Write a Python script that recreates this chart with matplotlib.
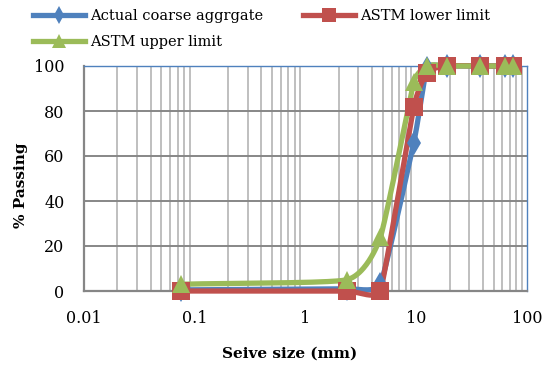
import numpy as np
import matplotlib
matplotlib.use("Agg")
import matplotlib.pyplot as plt
from matplotlib.ticker import LogLocator, NullFormatter, FixedLocator

sieve_mm = [0.075, 2.36, 4.75, 9.5, 12.5, 19, 37.5, 63, 75]
actual = [0.5, 1, 3, 66, 99, 100, 100, 100, 100]
lower = [0, 0, 0, 82, 97, 100, 100, 100, 100]
upper = [3, 5, 24, 93, 100, 100, 100, 100, 100]

x_ticks = [0.01, 0.1, 1, 10, 100]
x_ticklabels = ["0.01", "0.1", "1", "10", "100"]
y_ticks = [0, 20, 40, 60, 80, 100]

plt.rcParams['font.family'] = ['DejaVu Serif']

# rough pixel scale of the plot box, used so smoothing looks like excel's
SX, SY = 110.75, 2.25


def smooth(xs, ys, n=40, k=0.3):
    # bezier through the points, tangents from neighbours; handle length
    # limited by the shorter neighbouring chord so long flat runs stay flat
    P = np.column_stack([np.log10(xs) * SX, np.asarray(ys, float) * SY])
    m = len(P)
    chord = [np.hypot(*(P[i + 1] - P[i])) for i in range(m - 1)]
    tang = []
    for i in range(m):
        d = P[min(i + 1, m - 1)] - P[max(i - 1, 0)]
        tang.append(d / (np.hypot(*d) or 1))
    out = []
    t = np.linspace(0, 1, n)[:, None]
    for i in range(m - 1):
        p1, p2 = P[i], P[i + 1]
        L = chord[i]
        h1 = min(L, chord[i - 1]) if i > 0 else L
        h2 = min(L, chord[i + 1]) if i + 1 < m - 1 else L
        c1 = p1 + tang[i] * h1 * k
        c2 = p2 - tang[i + 1] * h2 * k
        seg = ((1 - t) ** 3 * p1 + 3 * (1 - t) ** 2 * t * c1
               + 3 * (1 - t) * t ** 2 * c2 + t ** 3 * p2)
        out.append(seg)
    c = np.vstack(out)
    return 10 ** (c[:, 0] / SX), c[:, 1] / SY


fig = plt.figure(figsize=(5.55, 3.69), dpi=100)
ax = fig.add_axes([84 / 555, 1 - 291 / 369, (527 - 84) / 555, (291 - 66) / 369])

ax.set_xscale("log")
ax.set_xlim(0.01, 100)
ax.set_ylim(0, 100)

series = [
    (actual, "#4F81BD", "d", 12, "Actual coarse aggrgate"),
    (lower, "#C0504D", "s", 13.5, "ASTM lower limit"),
    (upper, "#9BBB59", "^", 13, "ASTM upper limit"),
]
handles = {}
for vals, col, mk, ms, lab in series:
    sx, sy = smooth(sieve_mm, vals)
    ax.plot(sx, sy, color=col, lw=3.8, solid_capstyle="round", zorder=3, clip_on=False)
    ax.plot(sieve_mm, vals, ls="none", marker=mk, ms=ms, color=col, mew=0,
            zorder=4, clip_on=False)
    h, = ax.plot([], [], color=col, lw=3.8, marker=mk, ms=ms * 0.75, mew=0)
    handles[lab] = h

ax.xaxis.set_major_locator(FixedLocator(x_ticks))
ax.set_xticklabels(x_ticklabels)
ax.xaxis.set_minor_locator(LogLocator(base=10, subs=np.arange(2, 10), numticks=20))
ax.xaxis.set_minor_formatter(NullFormatter())
ax.set_yticks(y_ticks)

ax.grid(True, which="minor", axis="x", color="#BFBFBF", lw=1.4)
ax.grid(True, which="major", axis="y", color="#878787", lw=1.4)
ax.tick_params(which="both", length=0, labelsize=11.5, colors="black")
ax.tick_params(axis="x", pad=14)
ax.tick_params(axis="y", pad=14)
ax.set_axisbelow(True)

for s in ["top", "right"]:
    ax.spines[s].set_color("#4F81BD")
    ax.spines[s].set_linewidth(1.0)
for s in ["left", "bottom"]:
    ax.spines[s].set_color("#868686")
    ax.spines[s].set_linewidth(1.6)

fig.text(290 / 555, 1 - 354 / 369, "Seive size (mm)", ha="center", va="center",
         fontsize=11, fontweight="bold")
fig.text(21 / 555, 1 - 185 / 369, "% Passing", ha="center", va="center",
         rotation=90, fontsize=11, fontweight="bold")

order = ["Actual coarse aggrgate", "ASTM upper limit", "ASTM lower limit"]
fig.legend([handles[k] for k in order], order, ncol=2, loc="upper left",
           bbox_to_anchor=(24 / 555, 1.0), frameon=False, fontsize=10.5,
           handlelength=3.6, handletextpad=0.3, columnspacing=2.75,
           labelspacing=0.85, borderaxespad=0.2)

fig.savefig("out.png", dpi=100)
